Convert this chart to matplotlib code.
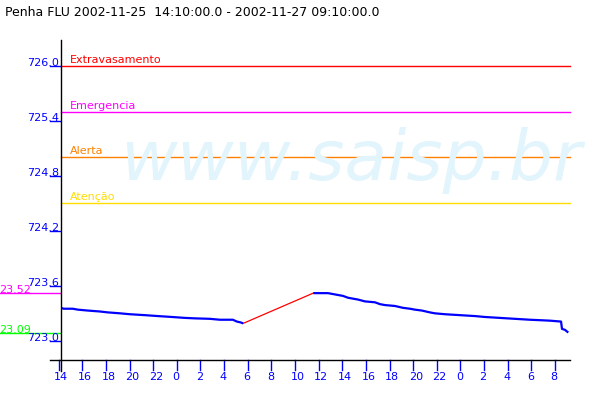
import matplotlib
matplotlib.use("Agg")
import matplotlib.pyplot as plt
from matplotlib.transforms import blended_transform_factory, ScaledTranslation

# ---------------- data ----------------
title = "Penha FLU 2002-11-25  14:10:00.0 - 2002-11-27 09:10:00.0"
# time in hours since 2002-11-25 00:00
t_start, t_end = 14 + 10/60, 57 + 10/60

# first measured segment
t1 = [14.17, 14.43, 15.19, 15.62, 16.46, 17.48, 18.16, 19.18, 20.02, 21.29,
      22.39, 23.58, 24.68, 25.52, 26.79, 27.64, 28.74, 29.08, 29.42, 29.61]
v1 = [723.36, 723.35, 723.35, 723.34, 723.33, 723.32, 723.31, 723.30, 723.29, 723.28,
      723.27, 723.26, 723.25, 723.245, 723.24, 723.23, 723.23, 723.21, 723.20, 723.19]
# second measured segment
t2 = [35.54, 36.79, 37.21, 37.63, 38.06, 38.48, 38.90, 39.33, 39.92, 40.77,
      41.19, 41.61, 42.46, 43.13, 43.73, 44.15, 44.74, 45.42, 45.84, 46.69,
      47.96, 49.23, 50.07, 51.34, 52.61, 53.88, 55.57, 56.52, 56.60, 56.85, 57.13]
v2 = [723.52, 723.52, 723.51, 723.50, 723.49, 723.47, 723.46, 723.45, 723.43, 723.42,
      723.40, 723.39, 723.38, 723.36, 723.35, 723.34, 723.33, 723.31, 723.30, 723.29,
      723.28, 723.27, 723.26, 723.25, 723.24, 723.23, 723.22, 723.21, 723.13, 723.12, 723.09]

levels = [726.0, 725.5, 725.0, 724.5]
level_names = ["Extravasamento", "Emergencia", "Alerta", "Atenção"]
level_colors = ["#ff0000", "#ff00ff", "#ff8000", "#ffdd00"]

v_max, v_min = 723.52, 723.09
y_ticks = [723.0, 723.6, 724.2, 724.8, 725.4, 726.0]
x_ticks = list(range(14, 57, 2))

# ---------------- figure ----------------
W, H = 600, 400
fig = plt.figure(figsize=(6, 4), dpi=100)
fig.patch.set_facecolor("white")

def fx(px): return px / W
def fy(py): return 1 - py / H

ax_l, ax_r, ax_t, ax_b = 60.7, 568.7, 40, 360
ax = fig.add_axes([fx(ax_l), fy(ax_b), fx(ax_r - ax_l), (ax_b - ax_t) / H])
ax.axis("off")
ax.set_xlim(t_start, t_end)
ax.set_ylim(722.791, 726.280)

FS = 8
blue = "#0000ff"

# watermark
fig.text(fx(120), fy(180), "www.saisp.br", fontsize=50, style="italic",
         color="#e2f4fc", ha="left", va="baseline", zorder=0)

# threshold lines
for lv, nm, c in zip(levels, level_names, level_colors):
    ax.axhline(lv, color=c, lw=1.0, xmin=0, xmax=1.003, clip_on=False)
    ax.text(0.0, lv, nm, color=c, fontsize=FS, ha="left", va="baseline",
            transform=blended_transform_factory(ax.transAxes, ax.transData)
            + ScaledTranslation(9.5/100, 3/100, fig.dpi_scale_trans))

# data
ax.plot(t1, v1, color=blue, lw=1.6, solid_capstyle="butt", zorder=5)
ax.plot(t2, v2, color=blue, lw=1.6, solid_capstyle="butt", zorder=5)
ax.plot([t1[-1], t2[0]], [v1[-1], v2[0]], color="#ff0000", lw=0.9, zorder=4)

# max / min markers in left margin
bt_y = blended_transform_factory(fig.transFigure, ax.transData)
for val, c in [(v_max, "#ff00ff"), (v_min, "#00ff00")]:
    ax.plot([0, fx(60)], [val, val], color=c, lw=1.0, transform=bt_y, clip_on=False)
    ax.text(fx(-1), val, f"{val:.2f}"[1:], color=c, fontsize=FS, ha="left",
            va="baseline", transform=bt_y)

# axis lines
fig.add_artist(plt.Line2D([fx(ax_l), fx(ax_l)], [fy(371), fy(ax_t)], color="black", lw=1.0))
fig.add_artist(plt.Line2D([fx(50), fx(570)], [fy(ax_b), fy(ax_b)], color="black", lw=1.0))

# y ticks
for yv in y_ticks:
    ax.plot([fx(50), fx(60)], [yv, yv], color=blue, lw=1.0, transform=bt_y, clip_on=False)
    ax.text(fx(59), yv, f"{yv:.1f}", color=blue, fontsize=FS, ha="right",
            va="baseline", transform=bt_y)

# x ticks
bt_x = blended_transform_factory(ax.transData, fig.transFigure)
for xv in x_ticks:
    ax.plot([xv, xv], [fy(360), fy(370)], color=blue, lw=1.0, transform=bt_x, clip_on=False)
    ax.text(xv, fy(372), f"{xv % 24}", color=blue, fontsize=FS, ha="left", va="top",
            transform=bt_x + ScaledTranslation(-4.5/100, 0, fig.dpi_scale_trans))

# title
fig.text(fx(4.7), fy(15.7), title, fontsize=9, color="black", ha="left", va="baseline")

fig.savefig("out.png", dpi=100)
